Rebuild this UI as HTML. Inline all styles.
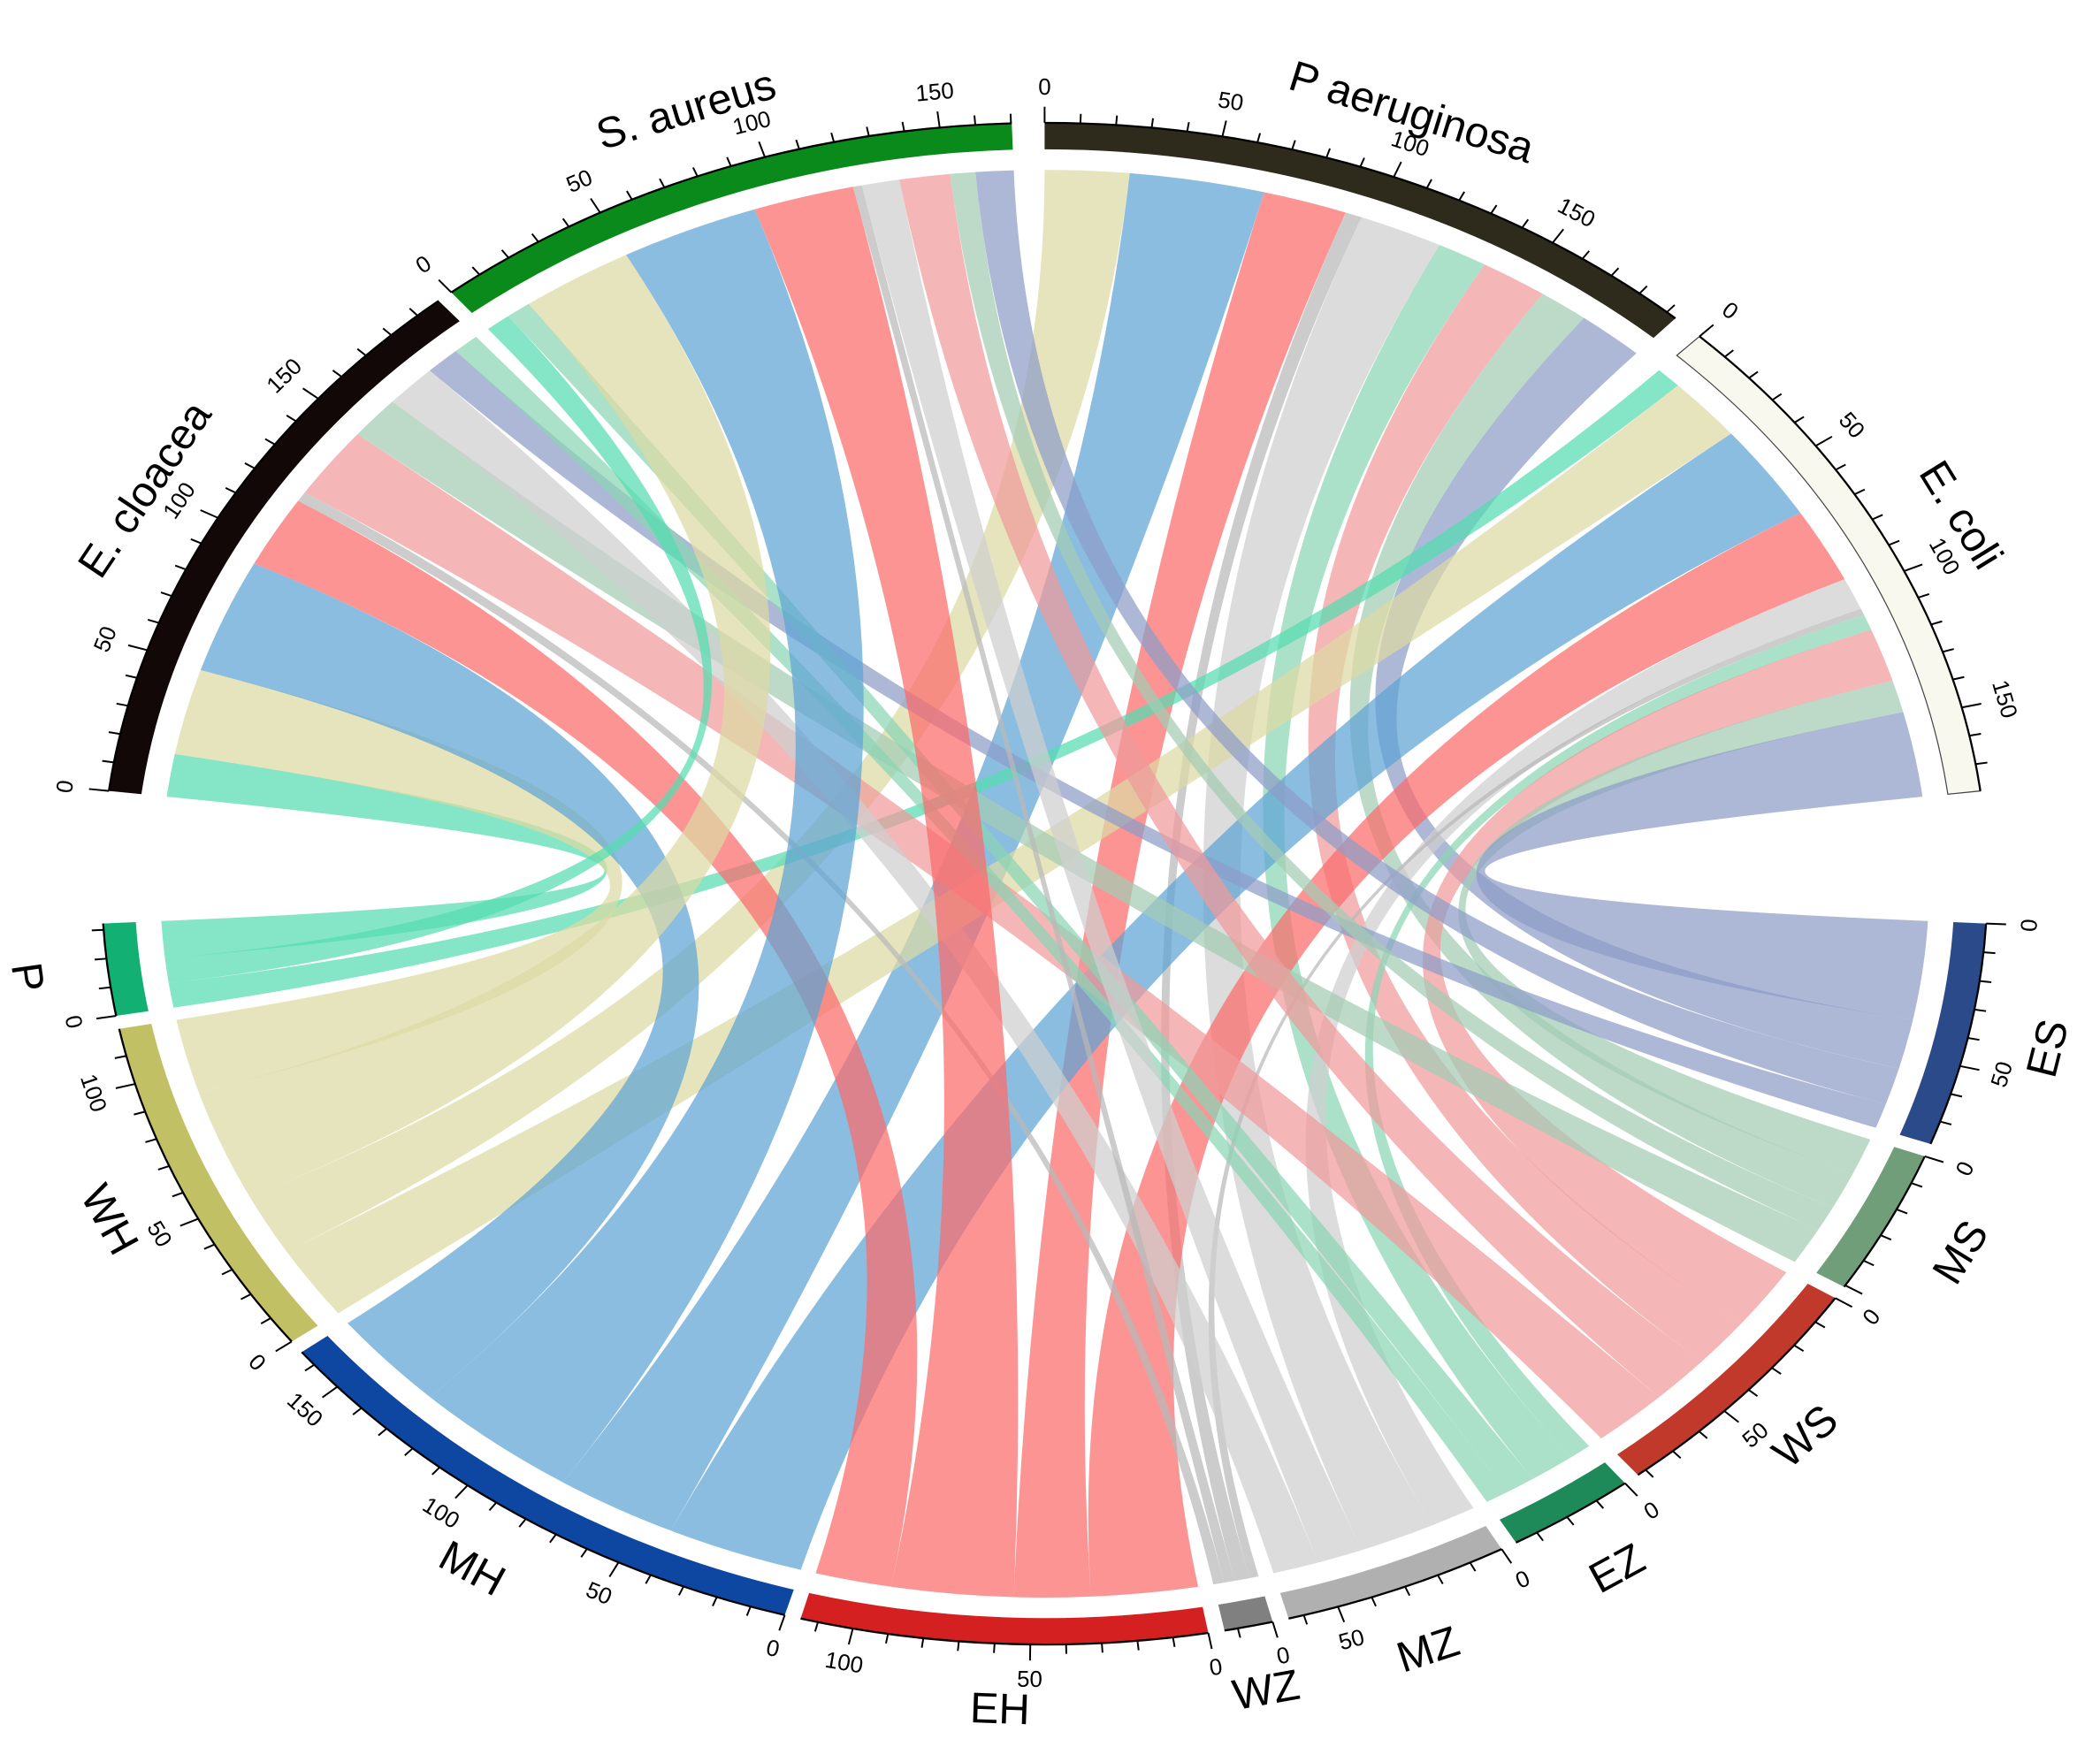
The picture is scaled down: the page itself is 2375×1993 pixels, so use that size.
<!DOCTYPE html>
<html><head><meta charset="utf-8"><style>
html,body{margin:0;padding:0;background:#fff;}
svg{display:block;}
text{font-family:"Liberation Sans",sans-serif;fill:#000;}
</style></head><body>
<svg id="s" width="2375" height="1993" viewBox="0 0 1560 1310" preserveAspectRatio="none" xmlns="http://www.w3.org/2000/svg">
<rect width="1560" height="1310" fill="#fff"/>
<g id="chords"></g><g id="ring"></g>
</svg>
<script>
const cx=776,cy=657,RX=676,RY=546,NS="http://www.w3.org/2000/svg";
function pt(d,r){const t=d*Math.PI/180;return [cx+RX*r*Math.sin(t),cy-RY*r*Math.cos(t)];}
function f(p){return p[0].toFixed(2)+" "+p[1].toFixed(2);}
function arc(a,b,r){const l=(b-a)>180?1:0;return `A ${(RX*r).toFixed(2)} ${(RY*r).toFixed(2)} 0 ${l} 1 ${f(pt(b,r))}`;}
function el(tag,at,par,txt){const e=document.createElementNS(NS,tag);for(const k in at)e.setAttribute(k,at[k]);if(txt!==undefined)e.textContent=txt;par.appendChild(e);return e;}
const S={
 Pa:{a:0,b:42,c:"#2e2a1c",n:"P aeruginosa"},
 Eco:{a:44,b:83,c:"#f8f8ee",n:"E. coli",st:1},
 ES:{a:93,b:110,c:"#2b4a8a",n:"ES"},
 MS:{a:111,b:122,c:"#6f9e78",n:"MS"},
 WS:{a:123,b:141,c:"#c0392b",n:"WS"},
 EZ:{a:142,b:150,c:"#1e8a5a",n:"EZ"},
 MZ:{a:151,b:165,c:"#b0b0b0",n:"MZ"},
 WZ:{a:166,b:169,c:"#808080",n:"WZ"},
 EH:{a:170,b:195,c:"#d42020",n:"EH"},
 MH:{a:196,b:232,c:"#0d47a1",n:"MH"},
 WH:{a:233,b:259,c:"#c2c064",n:"WH"},
 P:{a:260,b:267,c:"#12b073",n:"P"},
 Ecl:{a:277,b:320,c:"#120808",n:"E. cloacea"},
 Sa:{a:321,b:358,c:"#0a8a1a",n:"S. aureus"}};
const CC={ES:"#8e9cc8",MS:"#a3ccb4",WS:"#f09a9a",EZ:"#8ad4b4",MZ:"#cfcfcf",WZ:"#b8b8b8",EH:"#fb6b6b",MH:"#5ea4d4",WH:"#dcdaa4",P:"#55dcb0"};
const W={
 Pa:{WH:5,MH:8,EH:5,WZ:1,MZ:5,EZ:3,WS:4,MS:3,ES:4},
 Eco:{P:2,WH:6,MH:9,EH:7,MZ:3,WZ:.6,EZ:1.5,WS:5,MS:3,ES:8},
 Ecl:{P:3,WH:6,MH:8,EH:5,WZ:.7,WS:5,MS:3,MZ:3,ES:2,EZ:1.5},
 Sa:{P:2,EZ:2,WH:9,MH:11,EH:8,WZ:.7,MZ:3,WS:4,MS:2,ES:3}};
const srcOrder=["Eco","Pa","Sa","Ecl"];
const pos={};
for(const s in W){const tot=Object.values(W[s]).reduce((a,b)=>a+b,0);let a=S[s].a;const k=(S[s].b-S[s].a)/tot;
 for(const t in W[s]){const w=W[s][t]*k;pos[s+"-"+t]={sa:a,sb:a+w};a+=w;}}
const tg=["ES","MS","WS","EZ","MZ","WZ","EH","MH","WH","P"];
for(const t of tg){let tot=0;for(const s of srcOrder)if(W[s][t])tot+=W[s][t];let a=S[t].a;const k=(S[t].b-S[t].a)/tot;
 for(const s of srcOrder)if(W[s][t]){const w=W[s][t]*k;pos[s+"-"+t].ta=a;pos[s+"-"+t].tb=a+w;a+=w;}}
const cg=document.getElementById("chords"),r0=0.972;
for(const key in pos){const p=pos[key];const t=key.split("-")[1];
 const d=`M ${f(pt(p.sa,r0))} ${arc(p.sa,p.sb,r0)} Q ${cx} ${cy} ${f(pt(p.ta,r0))} ${arc(p.ta,p.tb,r0)} Q ${cx} ${cy} ${f(pt(p.sa,r0))} Z`;
 el("path",{d:d,fill:CC[t],"fill-opacity":0.72},cg);}
const rg=document.getElementById("ring");
const r1=1.0,r2=1.036,u=4.6;
function tangRot(d){const t=d*Math.PI/180;let ang=Math.atan2(RY*Math.sin(t),RX*Math.cos(t))*180/Math.PI;
 if(ang>90)ang-=180;if(ang<-90)ang+=180;return ang;}
for(const k in S){const s=S[k];
 el("path",{d:`M ${f(pt(s.a,r1))} ${arc(s.a,s.b,r1)} L ${f(pt(s.b,r2))} A ${(RX*r2).toFixed(2)} ${(RY*r2).toFixed(2)} 0 0 0 ${f(pt(s.a,r2))} Z`,fill:s.c,stroke:s.st?"#444":"none","stroke-width":s.st?0.8:0},rg);
 el("path",{d:`M ${f(pt(s.a,r2))} ${arc(s.a,s.b,r2)}`,fill:"none",stroke:"#000","stroke-width":1.5},rg);
 const maxv=(s.b-s.a)*u;
 for(let v=0;v<=maxv+0.01;v+=10){const d=s.a+v/u;const big=v%50==0;
  const p1=pt(d,r2),p2=pt(d,r2+(big?0.022:0.013));
  el("line",{x1:p1[0],y1:p1[1],x2:p2[0],y2:p2[1],stroke:"#000","stroke-width":1.3},rg);
  if(big && (v==0 || s.b-d>1.5)){const p=pt(d,r2+0.048);el("text",{x:p[0],y:p[1],"font-size":17,"text-anchor":"middle","dominant-baseline":"central",transform:`rotate(${tangRot(d)} ${p[0]} ${p[1]})`},rg,String(v));}}
 const m=(s.a+s.b)/2;const lr=1.125;const p=pt(m,lr);
 el("text",{x:p[0],y:p[1],"font-size":32,"text-anchor":"middle","dominant-baseline":"central",transform:`rotate(${tangRot(m)} ${p[0]} ${p[1]})`},rg,s.n);}
</script>
</body></html>
